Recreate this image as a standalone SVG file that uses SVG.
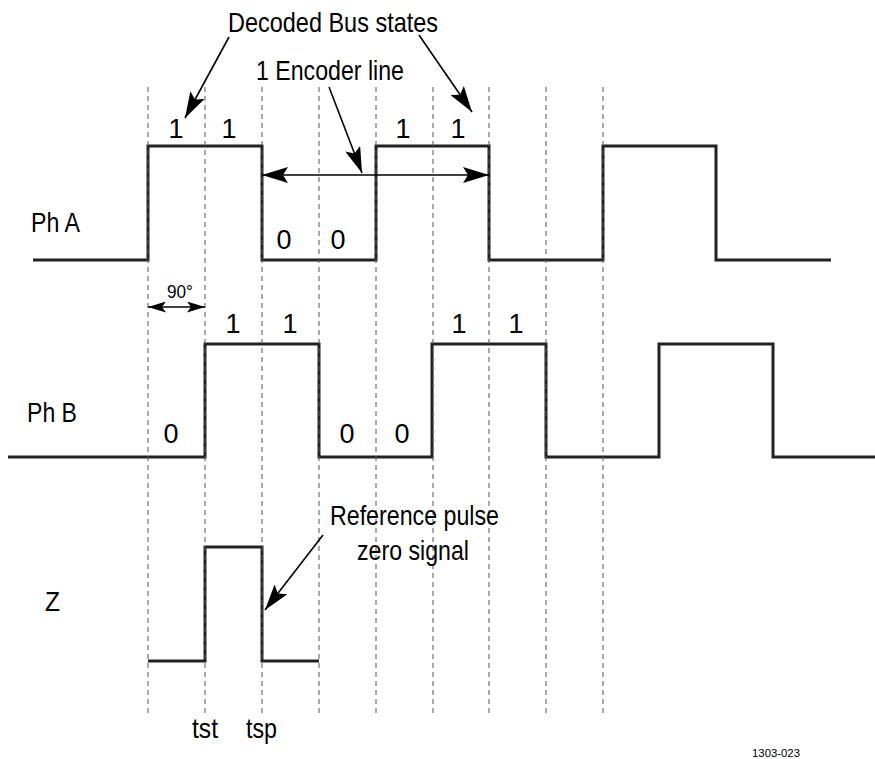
<svg xmlns="http://www.w3.org/2000/svg" width="875" height="759" viewBox="0 0 875 759">
  <style>
    .grid { stroke: #555; stroke-width: 1; stroke-dasharray: 5 4; fill: none; }
    .wave { stroke: #222; stroke-width: 3; fill: none; stroke-linejoin: miter; }
    .arr { stroke: #000; stroke-width: 1.6; fill: none; }
    text { font-family: "Liberation Sans", Arial, sans-serif; fill: #000; }
    .big { font-size: 28px; }
    .bit { font-size: 27px; text-anchor: middle; }
  </style>
  <defs>
    <marker id="ah" viewBox="0 0 26 16" refX="26" refY="8" markerWidth="26" markerHeight="16" markerUnits="userSpaceOnUse" orient="auto-start-reverse">
      <path d="M0,0 L26,8 L0,16 L5,8 z" fill="#000"/>
    </marker>
    <marker id="ahs" viewBox="0 0 18 11" refX="18" refY="5.5" markerWidth="18" markerHeight="11" markerUnits="userSpaceOnUse" orient="auto-start-reverse">
      <path d="M0,0 L18,5.5 L0,11 L4,5.5 z" fill="#000"/>
    </marker>
  </defs>
  <rect width="875" height="759" fill="#fff"/>

  <g id="waveforms">
    <g id="phA-wave"><polyline class="wave" points="33,260 148,260 148,146 262,146 262,260 376,260 376,146 489,146 489,260 603,260 603,146 716,146 716,260 831,260"/></g>
    <g id="phB-wave"><polyline class="wave" points="8,457 205,457 205,344 319,344 319,457 432,457 432,344 546,344 546,457 659,457 659,344 773,344 773,457 875,457"/></g>
    <g id="z-wave"><polyline class="wave" points="148,661 205,661 205,547 262,547 262,661 319,661"/></g>
  </g>

  <g id="grid">
    <line class="grid" x1="148" y1="87" x2="148" y2="715"/>
    <line class="grid" x1="205" y1="87" x2="205" y2="715"/>
    <line class="grid" x1="262" y1="87" x2="262" y2="715"/>
    <line class="grid" x1="319" y1="87" x2="319" y2="715"/>
    <line class="grid" x1="376" y1="87" x2="376" y2="715"/>
    <line class="grid" x1="433" y1="87" x2="433" y2="715"/>
    <line class="grid" x1="489" y1="87" x2="489" y2="715"/>
    <line class="grid" x1="546" y1="87" x2="546" y2="715"/>
    <line class="grid" x1="603" y1="87" x2="603" y2="715"/>
  </g>

  <g id="labels">
    <g id="decoded-label"><text class="big" x="228" y="32" textLength="210" lengthAdjust="spacingAndGlyphs">Decoded Bus states</text></g>
    <g id="encoder-label"><text class="big" x="256" y="80" textLength="148" lengthAdjust="spacingAndGlyphs">1 Encoder line</text></g>
    <g id="phA-label"><text class="big" x="31" y="232" textLength="49" lengthAdjust="spacingAndGlyphs">Ph A</text></g>
    <g id="phB-label"><text class="big" x="27" y="422" textLength="50" lengthAdjust="spacingAndGlyphs">Ph B</text></g>
    <g id="z-label"><text class="big" x="45" y="611" textLength="15" lengthAdjust="spacingAndGlyphs">Z</text></g>
    <g id="ref-label">
      <text class="big" x="330" y="525" textLength="169" lengthAdjust="spacingAndGlyphs">Reference pulse</text>
      <text class="big" x="357" y="560" textLength="112" lengthAdjust="spacingAndGlyphs">zero signal</text>
    </g>
    <g id="tst-label"><text class="big" x="192" y="738" textLength="26" lengthAdjust="spacingAndGlyphs">tst</text></g>
    <g id="tsp-label"><text class="big" x="246" y="738" textLength="31" lengthAdjust="spacingAndGlyphs">tsp</text></g>
    <g id="phase-label"><text x="167" y="298" font-size="18" textLength="26" lengthAdjust="spacingAndGlyphs">90°</text></g>
    <g id="fig-id"><text x="752" y="757" font-size="10.5" textLength="48" lengthAdjust="spacingAndGlyphs">1303-023</text></g>
    <g id="phA-bits">
      <text class="bit" x="176" y="138">1</text>
      <text class="bit" x="229" y="138">1</text>
      <text class="bit" x="284" y="249">0</text>
      <text class="bit" x="338" y="249">0</text>
      <text class="bit" x="403" y="138">1</text>
      <text class="bit" x="458" y="138">1</text>
    </g>
    <g id="phB-bits">
      <text class="bit" x="171" y="443">0</text>
      <text class="bit" x="233" y="333">1</text>
      <text class="bit" x="290" y="333">1</text>
      <text class="bit" x="347" y="443">0</text>
      <text class="bit" x="402" y="443">0</text>
      <text class="bit" x="459" y="333">1</text>
      <text class="bit" x="516" y="333">1</text>
    </g>
  </g>

  <g id="connectors">
    <line class="arr" x1="229" y1="37" x2="185" y2="118" marker-end="url(#ah)"/>
    <line class="arr" x1="419" y1="35" x2="472" y2="112" marker-end="url(#ah)"/>
    <line class="arr" x1="329" y1="87" x2="362" y2="173" marker-end="url(#ah)"/>
    <line class="arr" x1="262" y1="175" x2="489" y2="175" marker-start="url(#ah)" marker-end="url(#ah)"/>
    <line class="arr" x1="148" y1="307" x2="205" y2="307" marker-start="url(#ahs)" marker-end="url(#ahs)"/>
    <line class="arr" x1="323" y1="535" x2="265" y2="610" marker-end="url(#ah)"/>
  </g>
</svg>
